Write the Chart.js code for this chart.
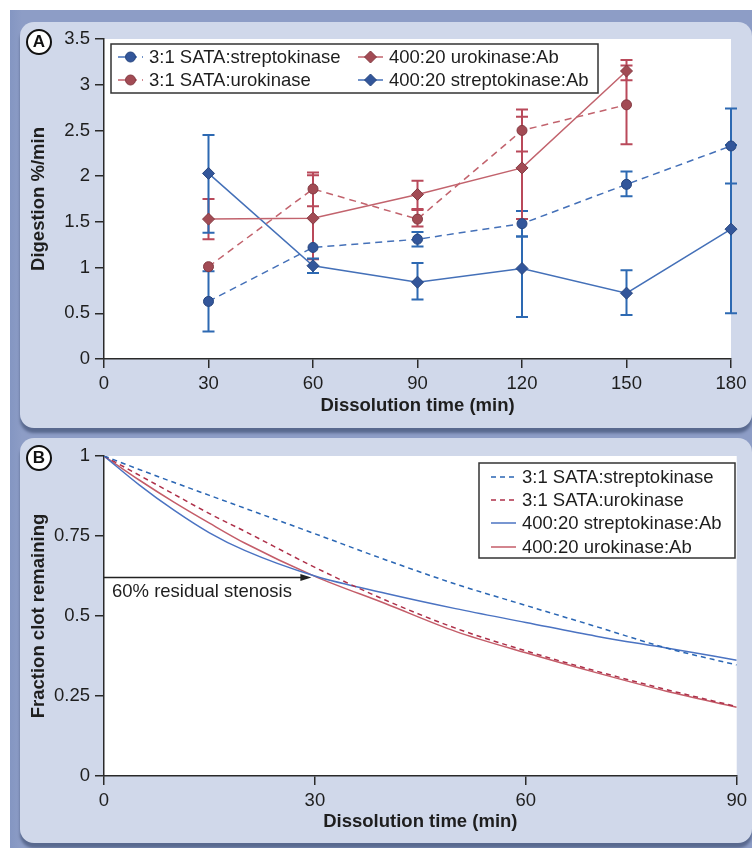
<!DOCTYPE html>
<html lang="en">
<head>
    <meta charset="UTF-8">
    <title>Clot digestion and dissolution</title>
    <script src="https://cdn.jsdelivr.net/npm/chart.js@4.4.4/dist/chart.umd.min.js"></script>
    <style>
        body { margin: 0; background: #fff; width: 752px; height: 848px; position: relative; overflow: hidden; }
        #frame { position: absolute; left: 10px; top: 10px; width: 742px; height: 838px;
                 background: linear-gradient(to right, #8496c2, #8d9dc6 12px, #8d9dc6); }
        .panel { position: absolute; left: 20px; width: 732px; background: #d0d8ea;
                 border-radius: 14px; box-shadow: 0 5px 3px #59698f; }
        #panelA { top: 22px; height: 406px; }
        #panelB { top: 438px; height: 405px; }
        canvas { position: absolute; left: 0; }
        #chartA { top: 0; }
        #chartB { top: 430px; }
        .tag { position: absolute; width: 22px; height: 22px; border: 2px solid #111; border-radius: 50%;
               background: #fff; font: bold 17px "Liberation Sans", Arial, sans-serif; color: #111;
               text-align: center; line-height: 22px; z-index: 2; }
    </style>
</head>
<body>
    <div id="frame"></div>
    <div class="panel" id="panelA"></div>
    <div class="panel" id="panelB"></div>
    <canvas id="chartA" width="752" height="430"></canvas>
    <canvas id="chartB" width="752" height="418"></canvas>
    <div class="tag" style="left:26px; top:29px;">A</div>
    <div class="tag" style="left:26px; top:445px;">B</div>

    <script>
        // Panel A: digestion rate (%/min) vs dissolution time
        const minutesA = [30, 60, 90, 120, 150, 180];
        const sataStrep     = [0.63, 1.22, 1.31, 1.48, 1.91, 2.33];
        const sataStrepLow  = [0.30, null, 1.23, 1.34, 1.78, 1.92];
        const sataStrepHigh = [0.96, null, 1.39, 1.62, 2.05, 2.74];
        const sataUro       = [1.01, 1.86, 1.53, 2.50, 2.78, null];
        const sataUroLow    = [null, 1.67, 1.45, 2.27, 2.35, null];
        const sataUroHigh   = [null, 2.04, 1.63, 2.73, 3.21, null];
        const uroAb         = [1.53, 1.54, 1.80, 2.09, 3.15, null];
        const uroAbLow      = [1.31, 1.09, 1.64, 1.53, 3.05, null];
        const uroAbHigh     = [1.75, 2.01, 1.95, 2.65, 3.27, null];
        const strepAb       = [2.03, 1.02, 0.84, 0.99, 0.72, 1.42];
        const strepAbLow    = [1.38, 0.94, 0.65, 0.46, 0.48, 0.50];
        const strepAbHigh   = [2.45, 1.10, 1.05, 1.34, 0.97, 2.34];

        // Panel B: fraction of clot remaining
        const minutesB = [0, 5, 10, 15, 20, 30, 40, 50, 60, 70, 80, 90];
        const sataStrepFrac = [1.0, 0.958, 0.917, 0.877, 0.837, 0.757, 0.676, 0.600, 0.533, 0.467, 0.400, 0.347];
        const sataUroFrac   = [1.0, 0.940, 0.880, 0.820, 0.765, 0.652, 0.550, 0.462, 0.391, 0.328, 0.270, 0.217];
        const strepAbFrac   = [1.0, 0.910, 0.830, 0.760, 0.705, 0.625, 0.571, 0.523, 0.480, 0.437, 0.400, 0.362];
        const uroAbFrac     = [1.0, 0.925, 0.855, 0.790, 0.728, 0.624, 0.539, 0.452, 0.385, 0.323, 0.265, 0.215];
        const stenosisLevel = 0.62;
        const stenosisEnd = 29.5;

        const FONT = '"Liberation Sans", Arial, Helvetica, sans-serif';
        Chart.defaults.font.family = FONT;

        function pts(xs, ys) {
            return xs.map((x, i) => ({ x: x, y: ys[i] })).filter(p => p.y !== null);
        }

        // white plotting area
        const plotBg = {
            id: 'plotBg',
            beforeDraw(chart) {
                const a = chart.chartArea, ctx = chart.ctx;
                ctx.save();
                ctx.fillStyle = '#fff';
                ctx.fillRect(a.left, a.top, a.right - a.left, a.bottom - a.top);
                ctx.restore();
            }
        };

        const errorBars = {
            id: 'errorBars',
            beforeDatasetsDraw(chart) {
                const { ctx, scales: { x, y } } = chart;
                chart.data.datasets.forEach(ds => {
                    if (!ds.errLow) return;
                    ctx.save();
                    ctx.strokeStyle = ds.errColor;
                    ctx.lineWidth = 2;
                    minutesA.forEach((t, i) => {
                        const lo = ds.errLow[i], hi = ds.errHigh[i];
                        if (lo == null) return;
                        const px = x.getPixelForValue(t);
                        const y1 = y.getPixelForValue(lo), y2 = y.getPixelForValue(hi);
                        ctx.beginPath();
                        ctx.moveTo(px, y1); ctx.lineTo(px, y2);
                        ctx.moveTo(px - 6, y1); ctx.lineTo(px + 6, y1);
                        ctx.moveTo(px - 6, y2); ctx.lineTo(px + 6, y2);
                        ctx.stroke();
                    });
                    ctx.restore();
                });
            }
        };

        // legend drawn as a framed box, entries given as [datasetIndex, x, y]
        function boxLegend(id, box, entries, withMarker) {
            return {
                id: id,
                afterDraw(chart) {
                    const ctx = chart.ctx;
                    ctx.save();
                    ctx.fillStyle = '#fff';
                    ctx.fillRect(box[0], box[1], box[2], box[3]);
                    ctx.strokeStyle = '#333';
                    ctx.lineWidth = 1.5;
                    ctx.strokeRect(box[0], box[1], box[2], box[3]);
                    entries.forEach(([di, ex, ey]) => {
                        const ds = chart.data.datasets[di];
                        ctx.save();
                        ctx.strokeStyle = ds.borderColor;
                        ctx.lineWidth = 1.5;
                        ctx.setLineDash(ds.borderDash || []);
                        ctx.beginPath();
                        ctx.moveTo(ex, ey); ctx.lineTo(ex + 25, ey);
                        ctx.stroke();
                        ctx.restore();
                        if (withMarker) {
                            ctx.fillStyle = ds.pointBackgroundColor;
                            ctx.strokeStyle = ds.pointBorderColor;
                            ctx.lineWidth = 1;
                            Chart.helpers.drawPoint(ctx, { pointStyle: ds.pointStyle, rotation: 0, radius: ds.pointRadius, borderWidth: 1 }, ex + 12.5, ey);
                        }
                        ctx.fillStyle = '#1e1e1e';
                        ctx.font = '18.5px ' + FONT;
                        ctx.textBaseline = 'middle';
                        ctx.textAlign = 'left';
                        ctx.fillText(ds.label, ex + 31, ey + 1);
                    });
                    ctx.restore();
                }
            };
        }

        const stenosisArrow = {
            id: 'stenosisArrow',
            beforeDatasetsDraw(chart) {
                const { ctx, scales: { x, y } } = chart;
                const py = y.getPixelForValue(stenosisLevel);
                const x0 = x.getPixelForValue(0), x1 = x.getPixelForValue(stenosisEnd);
                ctx.save();
                ctx.strokeStyle = '#222';
                ctx.fillStyle = '#222';
                ctx.lineWidth = 1.5;
                ctx.beginPath();
                ctx.moveTo(x0, py); ctx.lineTo(x1 - 8, py);
                ctx.stroke();
                ctx.beginPath();
                ctx.moveTo(x1, py); ctx.lineTo(x1 - 11, py - 3.5); ctx.lineTo(x1 - 11, py + 3.5);
                ctx.closePath();
                ctx.fill();
                ctx.font = '18.5px ' + FONT;
                ctx.textBaseline = 'middle';
                ctx.fillStyle = '#1e1e1e';
                ctx.fillText('60% residual stenosis', x0 + 8, py + 14);
                ctx.restore();
            }
        };

        function axis(min, max, step, title, fit) {
            return {
                type: 'linear', min: min, max: max,
                ticks: { stepSize: step, color: '#1e1e1e', font: { size: 18.5 }, padding: 5,
                         callback: v => String(+v.toFixed(2)) },
                grid: { drawOnChartArea: false, tickLength: 9, color: '#2a2a2a', lineWidth: 1.5 },
                border: { color: '#2a2a2a', width: 1.5 },
                title: { display: true, text: title, color: '#1e1e1e', font: { size: 18.5, weight: 'bold' }, padding: 0 },
                afterFit: fit
            };
        }

        const blueLine = '#4470b8', redLine = '#c2636d';
        const blueDot = '#33569a', redDot = '#a24b54';

        new Chart(document.getElementById('chartA'), {
            type: 'line',
            data: {
                datasets: [
                    { label: '3:1 SATA:streptokinase', data: pts(minutesA, sataStrep), borderColor: blueLine, borderDash: [7, 5],
                      pointStyle: 'circle', pointRadius: 5, pointBackgroundColor: blueDot, pointBorderColor: '#27467f',
                      errLow: sataStrepLow, errHigh: sataStrepHigh, errColor: '#2d69b2' },
                    { label: '3:1 SATA:urokinase', data: pts(minutesA, sataUro), borderColor: redLine, borderDash: [7, 5],
                      pointStyle: 'circle', pointRadius: 5, pointBackgroundColor: redDot, pointBorderColor: '#843a42',
                      errLow: sataUroLow, errHigh: sataUroHigh, errColor: '#b9495a' },
                    { label: '400:20 urokinase:Ab', data: pts(minutesA, uroAb), borderColor: redLine,
                      pointStyle: 'rectRot', pointRadius: 6, pointBackgroundColor: redDot, pointBorderColor: '#843a42',
                      errLow: uroAbLow, errHigh: uroAbHigh, errColor: '#b9495a' },
                    { label: '400:20 streptokinase:Ab', data: pts(minutesA, strepAb), borderColor: blueLine,
                      pointStyle: 'rectRot', pointRadius: 6, pointBackgroundColor: blueDot, pointBorderColor: '#27467f',
                      errLow: strepAbLow, errHigh: strepAbHigh, errColor: '#2d69b2' }
                ].map(d => Object.assign({ borderWidth: 1.5, pointBorderWidth: 1, fill: false, tension: 0, clip: false }, d))
            },
            options: {
                responsive: false, animation: false,
                layout: { padding: { left: 28, top: 39, right: 21, bottom: 13 } },
                plugins: { legend: { display: false }, tooltip: { enabled: false } },
                scales: {
                    x: axis(0, 180, 30, 'Dissolution time (min)', s => { s.height = 58; }),
                    y: axis(0, 3.5, 0.5, 'Digestion %/min', s => { s.width = 76; })
                }
            },
            plugins: [plotBg, errorBars,
                boxLegend('legendA', [111, 44, 487, 49], [[0, 118, 57], [1, 118, 80], [2, 358, 57], [3, 358, 80]], true)]
        });

        new Chart(document.getElementById('chartB'), {
            type: 'line',
            data: {
                datasets: [
                    { label: '3:1 SATA:streptokinase', data: pts(minutesB, sataStrepFrac), borderColor: '#2a66b4', borderDash: [5, 4] },
                    { label: '3:1 SATA:urokinase', data: pts(minutesB, sataUroFrac), borderColor: '#ae3049', borderDash: [5, 4] },
                    { label: '400:20 streptokinase:Ab', data: pts(minutesB, strepAbFrac), borderColor: '#4b73c2' },
                    { label: '400:20 urokinase:Ab', data: pts(minutesB, uroAbFrac), borderColor: '#c45d69' }
                ].map(d => Object.assign({ borderWidth: 1.5, pointRadius: 0, fill: false, cubicInterpolationMode: 'monotone' }, d))
            },
            options: {
                responsive: false, animation: false,
                layout: { padding: { left: 28, top: 26, right: 13, bottom: 15 } },
                plugins: { legend: { display: false }, tooltip: { enabled: false } },
                scales: {
                    x: axis(0, 90, 30, 'Dissolution time (min)', s => { s.height = 57; }),
                    y: axis(0, 1, 0.25, 'Fraction clot remaining', s => { s.width = 76; })
                }
            },
            plugins: [plotBg, stenosisArrow,
                boxLegend('legendB', [479, 33, 256, 95], [[0, 491, 47], [1, 491, 70], [2, 491, 93], [3, 491, 117]], false)]
        });
    </script>
</body>
</html>
